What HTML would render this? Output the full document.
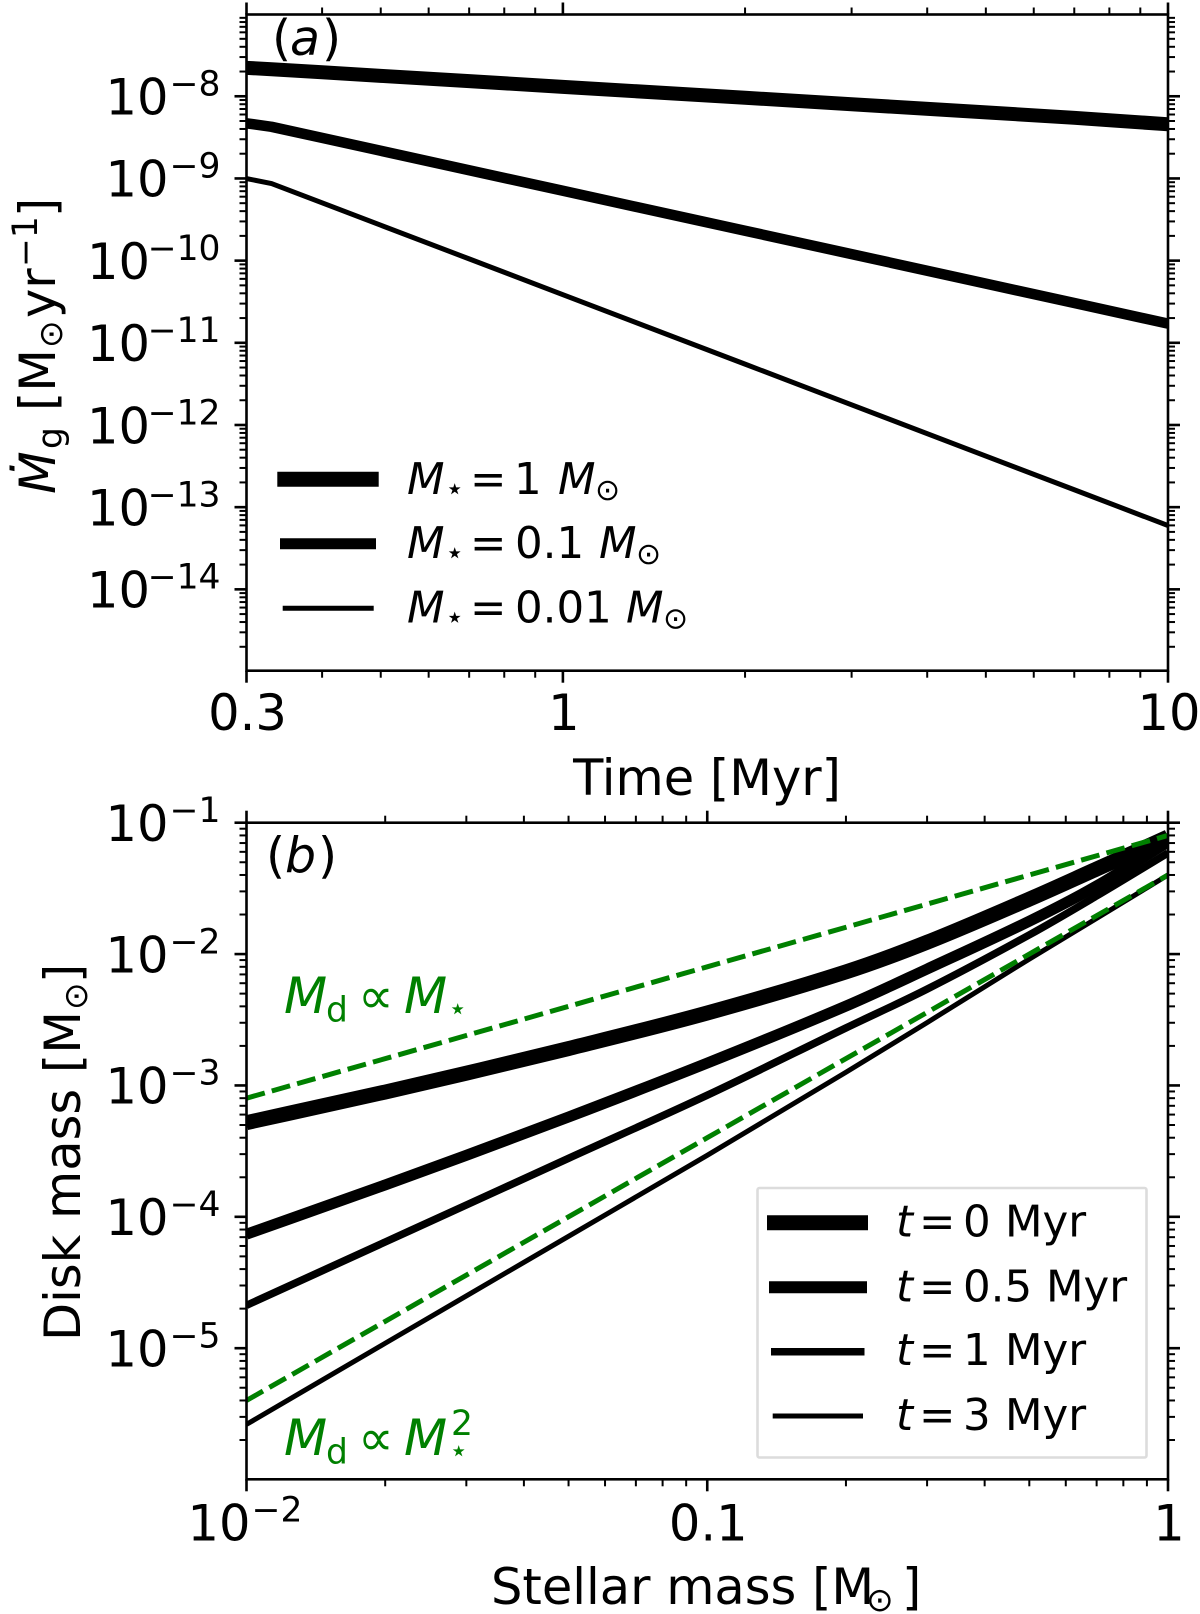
<!DOCTYPE html>
<html lang="en">
<head>
<meta charset="utf-8">
<title>Gas accretion rate and disk mass charts</title>
<style>
html,body{margin:0;padding:0;background:#fff;}
svg{display:block;}
text{font-family:"DejaVu Sans","Liberation Sans",sans-serif;fill:#000;}
.tick-label{font-size:49.5px;}
.axis-title{font-size:49.5px;}
.legend-text{font-size:43.5px;}
.sub{font-size:34.5px;}
.lsub{font-size:31px;}
.odot{font-size:33px;}
.lodot{font-size:30px;}
.it{font-style:italic;}
.green,.green tspan{fill:#008000;}
</style>
</head>
<body>
<svg id="figure" xmlns="http://www.w3.org/2000/svg" width="1200" height="1614" viewBox="0 0 1200 1614">
  <defs>
    <clipPath id="clip-a"><rect x="246.5" y="14.5" width="921.5" height="656.2"/></clipPath>
    <clipPath id="clip-b"><rect x="246.5" y="822.7" width="921.5" height="656.6"/></clipPath>
  </defs>
  <rect x="0" y="0" width="1200" height="1614" fill="#fff"/>

  <g id="panel-a">
    <g id="series-a" clip-path="url(#clip-a)"></g>
    <g id="ticks-a"></g>
    <rect x="246.5" y="14.5" width="921.5" height="656.2" fill="none" stroke="#000" stroke-width="2.6"/>
    <g id="labels-a"></g>

    <text font-size="49"><tspan x="272" y="55">(</tspan><tspan class="it" x="290" y="55">a</tspan><tspan x="322" y="55">)</tspan></text>

    <text class="axis-title" x="707" y="795" text-anchor="middle">Time [Myr]</text>

    <text transform="translate(55,0) rotate(-90)" class="axis-title"><tspan class="it" x="-494" y="0">Ṁ</tspan><tspan class="sub" x="-449" y="7">g</tspan><tspan x="-411" y="0">[M</tspan><tspan class="odot" x="-348" y="7">⊙</tspan><tspan x="-318" y="0">yr</tspan><tspan class="sub" x="-267" y="-18">−1</tspan><tspan x="-217" y="0">]</tspan></text>

    <g id="legend-a">
      <line x1="277.3" x2="378.7" y1="479.3" y2="479.3" stroke="#000" stroke-width="15"/>
      <line x1="280" x2="376" y1="543.7" y2="543.7" stroke="#000" stroke-width="11"/>
      <line x1="282.7" x2="373.7" y1="608.3" y2="608.3" stroke="#000" stroke-width="5"/>
      <text class="legend-text"><tspan class="it" x="407" y="494">M</tspan><tspan class="lsub" x="445" y="499">⋆</tspan><tspan x="470" y="494">=</tspan><tspan x="514" y="494">1</tspan><tspan class="it" x="558" y="494">M</tspan><tspan class="lodot" x="595" y="500">⊙</tspan></text>
      <text class="legend-text"><tspan class="it" x="407" y="558">M</tspan><tspan class="lsub" x="445" y="563">⋆</tspan><tspan x="470" y="558">=</tspan><tspan x="515" y="558">0.1</tspan><tspan class="it" x="599" y="558">M</tspan><tspan class="lodot" x="636" y="564">⊙</tspan></text>
      <text class="legend-text"><tspan class="it" x="407" y="622.7">M</tspan><tspan class="lsub" x="445" y="627.7">⋆</tspan><tspan x="470" y="622.7">=</tspan><tspan x="515" y="622.7">0.01</tspan><tspan class="it" x="626" y="622.7">M</tspan><tspan class="lodot" x="663" y="628.7">⊙</tspan></text>
    </g>
  </g>

  <g id="panel-b">
    <g id="series-b" clip-path="url(#clip-b)"></g>
    <g id="ticks-b"></g>
    <rect x="246.5" y="822.7" width="921.5" height="656.6" fill="none" stroke="#000" stroke-width="2.6"/>
    <g id="labels-b"></g>

    <text font-size="49"><tspan x="266" y="872.7">(</tspan><tspan class="it" x="285" y="872.7">b</tspan><tspan x="318" y="872.7">)</tspan></text>

    <text class="axis-title"><tspan x="491" y="1604">Stellar mass [M</tspan><tspan class="odot" x="866" y="1611">⊙</tspan><tspan x="902" y="1604">]</tspan></text>

    <text transform="translate(80,0) rotate(-90)" class="axis-title"><tspan x="-1341" y="0">Disk mass [M</tspan><tspan class="odot" x="-1010" y="7">⊙</tspan><tspan x="-983" y="0">]</tspan></text>

    <text class="green" font-size="50"><tspan class="it" x="284" y="1013">M</tspan><tspan class="sub" x="326" y="1021.7">d</tspan><tspan x="358" y="1013">∝</tspan><tspan class="it" x="404" y="1013">M</tspan><tspan class="lsub" x="448" y="1019">⋆</tspan></text>
    <text class="green" font-size="50"><tspan class="it" x="284" y="1455">M</tspan><tspan class="sub" x="326" y="1463.7">d</tspan><tspan x="358" y="1455">∝</tspan><tspan class="it" x="404" y="1455">M</tspan><tspan class="lsub" x="449" y="1461">⋆</tspan><tspan class="sub" x="451" y="1435">2</tspan></text>

    <g id="legend-b">
      <rect x="757.5" y="1188" width="389" height="269.5" rx="2" fill="#fff" fill-opacity="0.85" stroke="#dcdcdc" stroke-width="2.6"/>
      <line x1="767" x2="868" y1="1222.7" y2="1222.7" stroke="#000" stroke-width="15"/>
      <line x1="769" x2="867" y1="1287.3" y2="1287.3" stroke="#000" stroke-width="12"/>
      <line x1="771" x2="864.5" y1="1351.7" y2="1351.7" stroke="#000" stroke-width="7.5"/>
      <line x1="772.7" x2="863" y1="1416" y2="1416" stroke="#000" stroke-width="5"/>
      <text class="legend-text"><tspan class="it" x="896" y="1236.7">t</tspan><tspan x="919" y="1236.7">=</tspan><tspan x="963" y="1236.7">0</tspan><tspan x="1005" y="1236.7">Myr</tspan></text>
      <text class="legend-text"><tspan class="it" x="896" y="1301.7">t</tspan><tspan x="919" y="1301.7">=</tspan><tspan x="963" y="1301.7">0.5</tspan><tspan x="1046" y="1301.7">Myr</tspan></text>
      <text class="legend-text"><tspan class="it" x="896" y="1365">t</tspan><tspan x="919" y="1365">=</tspan><tspan x="963" y="1365">1</tspan><tspan x="1005" y="1365">Myr</tspan></text>
      <text class="legend-text"><tspan class="it" x="896" y="1430">t</tspan><tspan x="919" y="1430">=</tspan><tspan x="963" y="1430">3</tspan><tspan x="1005" y="1430">Myr</tspan></text>
    </g>
  </g>
</svg>

<script>
// Panel (a) data: time in Myr, gas accretion rate in Msun/yr
const times = [0.3, 0.33, 0.4, 0.5, 0.7, 1, 2, 3, 5, 7, 10];
const mdotStar1 = [2.22e-8, 2.13e-8, 1.96e-8, 1.77e-8, 1.53e-8, 1.3e-8, 9.59e-9, 8.0e-9, 6.37e-9, 5.47e-9, 4.56e-9];
const mdotStar01 = [4.69e-9, 4.25e-9, 3.12e-9, 2.17e-9, 1.26e-9, 7.08e-10, 2.31e-10, 1.2e-10, 5.25e-11, 3.05e-11, 1.71e-11];
const mdotStar001 = [9.97e-10, 8.66e-10, 5.05e-10, 2.7e-10, 1.05e-10, 3.85e-11, 5.5e-12, 1.76e-12, 4.19e-13, 1.63e-13, 5.97e-14];
const xTicksA = [0.3, 1, 10];
const xTickLabelsA = ['0.3', '1', '10'];
const yTickExponentsA = [-8, -9, -10, -11, -12, -13, -14];

// Panel (b) data: stellar mass in Msun, disk mass in Msun
const stellarMasses = [0.01, 0.02, 0.03, 0.05, 0.1, 0.2, 0.3, 0.5, 0.7, 1];
const diskT0 = [5.21e-4, 8.91e-4, 1.24e-3, 1.91e-3, 3.56e-3, 7.32e-3, 1.23e-2, 2.62e-2, 4.44e-2, 7.78e-2];
const diskT05 = [7.37e-5, 1.75e-4, 2.94e-4, 5.75e-4, 1.48e-3, 4.02e-3, 7.69e-3, 1.78e-2, 3.3e-2, 7.13e-2];
const diskT1 = [2.12e-5, 6.43e-5, 1.23e-4, 2.79e-4, 8.43e-4, 2.74e-3, 5.41e-3, 1.4e-2, 2.77e-2, 5.88e-2];
const diskT3 = [2.63e-6, 1.09e-5, 2.5e-5, 7.11e-5, 2.94e-4, 1.26e-3, 3.01e-3, 9.16e-3, 1.87e-2, 4.0e-2];
const guideMasses = [0.01, 0.1, 1];
const guideLinear = [8e-4, 8e-3, 8e-2];
const guideQuadratic = [4e-6, 4e-4, 4e-2];
const xTicksB = [0.1, 1];
const xTickLabelsB = ['0.1', '1'];
const xTickExponentB = -2;
const yTickExponentsB = [-1, -2, -3, -4, -5];

const NS = 'http://www.w3.org/2000/svg';
const lg = Math.log10;

const boxA = {l: 246.5, r: 1168, t: 14.5, b: 670.7};
const boxB = {l: 246.5, r: 1168, t: 822.7, b: 1479.3};
const domA = {x0: lg(0.3), x1: 1, y0: -14.99, y1: -7.005};
const domB = {x0: -2, x1: 0, y0: -5.998, y1: -1};

function scaleX(box, dom, v) {
  return box.l + (lg(v) - dom.x0) / (dom.x1 - dom.x0) * (box.r - box.l);
}
function scaleY(box, dom, v) {
  return box.b - (lg(v) - dom.y0) / (dom.y1 - dom.y0) * (box.b - box.t);
}
const xA = v => scaleX(boxA, domA, v);
const yA = v => scaleY(boxA, domA, v);
const xB = v => scaleX(boxB, domB, v);
const yB = v => scaleY(boxB, domB, v);

function drawSeries(parent, xs, ys, fx, fy, width, color, dash, name) {
  const el = document.createElementNS(NS, 'polyline');
  
  
  el.setAttribute('points', xs.map((x, i) => fx(x).toFixed(2) + ',' + fy(ys[i]).toFixed(2)).join(' '));
  el.setAttribute('fill', 'none');
  el.setAttribute('stroke', color);
  el.setAttribute('stroke-width', width);
  el.setAttribute('stroke-linejoin', 'round');
  if (dash) el.setAttribute('stroke-dasharray', dash);
  parent.appendChild(el);
}

// Smooth curve through the read points (Catmull-Rom converted to cubic Beziers)
function drawSmoothSeries(parent, xs, ys, fx, fy, width, color, name) {
  const pts = xs.map((x, i) => [fx(x), fy(ys[i])]);
  let d = 'M' + pts[0][0].toFixed(2) + ' ' + pts[0][1].toFixed(2);
  for (let i = 0; i < pts.length - 1; i++) {
    const p0 = pts[Math.max(i - 1, 0)];
    const p1 = pts[i];
    const p2 = pts[i + 1];
    const p3 = pts[Math.min(i + 2, pts.length - 1)];
    const h = p2[0] - p1[0];
    const m1 = (p2[1] - p0[1]) / (p2[0] - p0[0]);
    const m2 = (p3[1] - p1[1]) / (p3[0] - p1[0]);
    d += ' C' + (p1[0] + h / 3).toFixed(2) + ' ' + (p1[1] + m1 * h / 3).toFixed(2) +
         ' ' + (p2[0] - h / 3).toFixed(2) + ' ' + (p2[1] - m2 * h / 3).toFixed(2) +
         ' ' + p2[0].toFixed(2) + ' ' + p2[1].toFixed(2);
  }
  const el = document.createElementNS(NS, 'path');
  
  
  el.setAttribute('d', d);
  el.setAttribute('fill', 'none');
  el.setAttribute('stroke', color);
  el.setAttribute('stroke-width', width);
  parent.appendChild(el);
}

function drawTick(parent, x1, y1, x2, y2, width, name) {
  const el = document.createElementNS(NS, 'line');
  
  
  el.setAttribute('x1', x1);
  el.setAttribute('y1', y1);
  el.setAttribute('x2', x2);
  el.setAttribute('y2', y2);
  el.setAttribute('stroke', '#000');
  el.setAttribute('stroke-width', width);
  parent.appendChild(el);
}

function drawXTick(parent, box, px, major) {
  const len = major ? 12 : 7;
  const w = major ? 2.6 : 2;
  drawTick(parent, px, box.b, px, box.b + len, w, major ? 'x-major-tick' : 'x-minor-tick');
  drawTick(parent, px, box.t, px, box.t - len, w, major ? 'x-major-tick-top' : 'x-minor-tick-top');
}
function drawYTick(parent, box, py, major) {
  const len = major ? 12 : 7;
  const w = major ? 2.6 : 2;
  drawTick(parent, box.l, py, box.l - len, py, w, major ? 'y-major-tick' : 'y-minor-tick');
  drawTick(parent, box.r, py, box.r + len, py, w, major ? 'y-major-tick-right' : 'y-minor-tick-right');
}

function drawLogTicks(parent, box, dom, fx, fy, xMajors, xDecades, yDecades) {
  const tol = 1e-6;
  xDecades.forEach(d => {
    for (let m = 1; m < 10; m++) {
      const v = m * Math.pow(10, d);
      const lv = lg(v);
      if (lv < dom.x0 - tol || lv > dom.x1 + tol) continue;
      const isMajor = xMajors.some(t => Math.abs(lg(t) - lv) < tol);
      drawXTick(parent, box, fx(v), isMajor);
    }
  });
  yDecades.forEach(d => {
    for (let m = 1; m < 10; m++) {
      const v = m * Math.pow(10, d);
      const lv = lg(v);
      if (lv < dom.y0 - tol || lv > dom.y1 + tol) continue;
      drawYTick(parent, box, fy(v), m === 1);
    }
  });
}

function powerLabel(parent, exponent, anchorEnd, baseY, name) {
  const digits = String(Math.abs(exponent)).length;
  const base = document.createElementNS(NS, 'text');
  
  
  base.setAttribute('class', 'tick-label');
  base.setAttribute('text-anchor', 'end');
  base.setAttribute('x', anchorEnd - 52 - 18.5 * (digits - 1));
  base.setAttribute('y', baseY);
  base.textContent = '10';
  parent.appendChild(base);
  const exp = document.createElementNS(NS, 'text');
  
  
  exp.setAttribute('text-anchor', 'end');
  exp.setAttribute('font-size', '34.5');
  exp.setAttribute('x', anchorEnd);
  exp.setAttribute('y', baseY - 19);
  exp.textContent = '\u2212' + Math.abs(exponent);
  parent.appendChild(exp);
}

function plainLabel(parent, text, px, baseY, name) {
  const el = document.createElementNS(NS, 'text');
  
  
  el.setAttribute('class', 'tick-label');
  el.setAttribute('text-anchor', 'middle');
  el.setAttribute('x', px + 1);
  el.setAttribute('y', baseY);
  el.textContent = text;
  parent.appendChild(el);
}

// Panel (a)
const seriesA = document.getElementById('series-a');
drawSeries(seriesA, times, mdotStar1, xA, yA, 14, '#000', null, 'line-1-msun');
drawSeries(seriesA, times, mdotStar01, xA, yA, 10.5, '#000', null, 'line-0.1-msun');
drawSeries(seriesA, times, mdotStar001, xA, yA, 5, '#000', null, 'line-0.01-msun');

const ticksA = document.getElementById('ticks-a');
drawLogTicks(ticksA, boxA, domA, xA, yA, xTicksA, [-1, 0, 1], [-15, -14, -13, -12, -11, -10, -9, -8, -7]);
const labelsA = document.getElementById('labels-a');
xTicksA.forEach((t, i) => plainLabel(labelsA, xTickLabelsA[i], xA(t), 730, 'x-tick-label-a'));
yTickExponentsA.forEach(e => powerLabel(labelsA, e, 220.5, yA(Math.pow(10, e)) + 18.3, 'y-tick-label-a'));

// Panel (b)
const seriesB = document.getElementById('series-b');
drawSmoothSeries(seriesB, stellarMasses, diskT0, xB, yB, 15, '#000', 'line-t0');
drawSmoothSeries(seriesB, stellarMasses, diskT05, xB, yB, 11, '#000', 'line-t0.5');
drawSmoothSeries(seriesB, stellarMasses, diskT1, xB, yB, 7.5, '#000', 'line-t1');
drawSmoothSeries(seriesB, stellarMasses, diskT3, xB, yB, 5, '#000', 'line-t3');
drawSeries(seriesB, guideMasses, guideLinear, xB, yB, 5, '#008000', '19 7.3', 'guide-linear');
drawSeries(seriesB, guideMasses, guideQuadratic, xB, yB, 5, '#008000', '19 7.3', 'guide-quadratic');

const ticksB = document.getElementById('ticks-b');
drawLogTicks(ticksB, boxB, domB, xB, yB, [0.01].concat(xTicksB), [-2, -1, 0], [-6, -5, -4, -3, -2, -1]);
const labelsB = document.getElementById('labels-b');
powerLabel(labelsB, xTickExponentB, 302.5, 1540.7, 'x-tick-label-b');
xTicksB.forEach((t, i) => plainLabel(labelsB, xTickLabelsB[i], xB(t), 1540.7, 'x-tick-label-b'));
yTickExponentsB.forEach(e => powerLabel(labelsB, e, 220.5, yB(Math.pow(10, e)) + 18.3, 'y-tick-label-b'));
</script>
</body>
</html>
